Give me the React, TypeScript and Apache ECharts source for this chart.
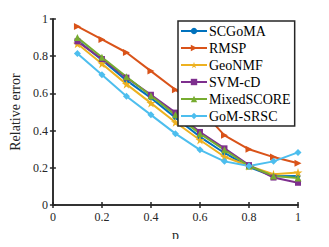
import React, { useEffect, useRef } from "react";
import * as echarts from "echarts";

const pValues = [0.1, 0.2, 0.3, 0.4, 0.5, 0.6, 0.7, 0.8, 0.9, 1.0];
const seriesNames = ["SCGoMA", "RMSP", "GeoNMF", "SVM-cD", "MixedSCORE", "GoM-SRSC"];
const scgoma = [0.885, 0.78, 0.67, 0.576, 0.47, 0.367, 0.28, 0.205, 0.155, 0.157];
const rmsp = [0.96, 0.89, 0.82, 0.72, 0.62, 0.52, 0.375, 0.3, 0.258, 0.225];
const geonmf = [0.867, 0.76, 0.65, 0.548, 0.445, 0.35, 0.26, 0.21, 0.166, 0.175];
const svmcd = [0.88, 0.785, 0.685, 0.593, 0.497, 0.393, 0.305, 0.215, 0.148, 0.12];
const mixedscore = [0.9, 0.794, 0.69, 0.588, 0.485, 0.384, 0.297, 0.21, 0.157, 0.145];
const gomsrsc = [0.815, 0.7, 0.585, 0.485, 0.384, 0.297, 0.235, 0.21, 0.235, 0.283];

const colors = ["#0072BD", "#D95319", "#EDB120", "#7E2F8E", "#77AC30", "#4DBEEE"];
const starPath =
  "path://M50 0 L61.23 34.55 L97.55 34.55 L68.17 55.9 L79.39 90.45 L50 69.1 L20.61 90.45 L31.83 55.9 L2.45 34.55 L38.77 34.55 Z";
const symbols = ["circle", "triangle", starPath, "rect", "triangle", "diamond"];
const rotates = [0, -90, 0, 0, 0, 0];
const sizes = [5, 7, 9, 6, 7, 7];

export default function App() {
  const ref = useRef<HTMLDivElement>(null);
  useEffect(() => {
    if (!ref.current) return;
    const chart = echarts.init(ref.current, null, { renderer: "svg" });
    const allData = [scgoma, rmsp, geonmf, svmcd, mixedscore, gomsrsc];
    const font = "Liberation Serif";
    const axisLine = { show: true, lineStyle: { color: "#262626", width: 1.5 } };
    const tick = { show: true, inside: true, length: 3, lineStyle: { color: "#262626", width: 1.5 } };
    chart.setOption({
      animation: false,
      color: colors,
      textStyle: { fontFamily: font },
      grid: { left: 43, right: 31, top: 19, bottom: 37, containLabel: false },
      legend: {
        orient: "vertical",
        left: 178,
        top: 21,
        itemWidth: 26,
        itemHeight: 8,
        itemGap: 3,
        padding: [3, 4, 3, 2],
        borderColor: "#262626",
        borderWidth: 1.5,
        backgroundColor: "#ffffff",
        textStyle: { fontFamily: font, fontSize: 14, fontWeight: "normal", color: "#000", padding: [0, 0, 0, -3] },
        data: seriesNames,
      },
      xAxis: [
        {
          type: "value",
          min: 0,
          max: 1,
          interval: 0.2,
          name: "p",
          nameLocation: "middle",
          nameGap: 21,
          nameTextStyle: { fontFamily: font, fontSize: 14, color: "#262626" },
          axisLine,
          axisTick: tick,
          axisLabel: { fontFamily: font, fontSize: 12, color: "#262626", margin: 6 },
          splitLine: { show: false },
        },
        {
          type: "value",
          position: "top",
          min: 0,
          max: 1,
          interval: 0.2,
          axisLine,
          axisTick: tick,
          axisLabel: { show: false },
          splitLine: { show: false },
        },
      ],
      yAxis: [
        {
          type: "value",
          min: 0,
          max: 1,
          interval: 0.2,
          name: "Relative error",
          nameLocation: "middle",
          nameGap: 22,
          nameTextStyle: { fontFamily: font, fontSize: 14, color: "#262626" },
          axisLine,
          axisTick: tick,
          axisLabel: { fontFamily: font, fontSize: 12, color: "#262626", margin: 5 },
          splitLine: { show: false },
        },
        {
          type: "value",
          position: "right",
          min: 0,
          max: 1,
          interval: 0.2,
          axisLine,
          axisTick: tick,
          axisLabel: { show: false },
          splitLine: { show: false },
        },
      ],
      series: seriesNames.map((name, i) => ({
        name,
        type: "line",
        xAxisIndex: 0,
        yAxisIndex: 0,
        data: pValues.map((p, j) => [p, allData[i][j]]),
        symbol: symbols[i],
        symbolRotate: rotates[i],
        symbolSize: sizes[i],
        showSymbol: true,
        lineStyle: { width: 2, color: colors[i] },
        itemStyle: { color: colors[i], borderWidth: 0 },
      })),
    });
    return () => chart.dispose();
  }, []);
  return <div ref={ref} style={{ width: 329, height: 247, margin: -8 }} />;
}
